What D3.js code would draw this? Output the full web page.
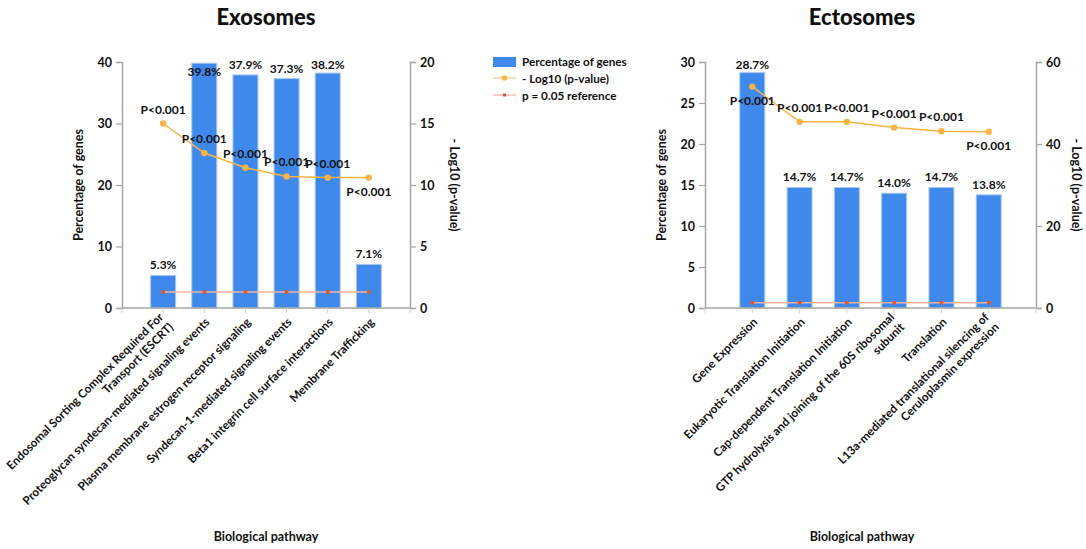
<!DOCTYPE html>
<html>
<head>
<meta charset="utf-8">
<script src="https://cdn.jsdelivr.net/npm/d3@7"></script>
<style>
  body { margin: 0; background: #fff; }
  svg text { font-family: Lato, "Open Sans", sans-serif; fill: #111; }
</style>
</head>
<body>
<svg id="chart" width="1086" height="549"></svg>
<script>
// data
var exoCats = [
  ["Endosomal Sorting Complex Required For", "Transport (ESCRT)"],
  ["Proteoglycan syndecan-mediated signaling events"],
  ["Plasma membrane estrogen receptor signaling"],
  ["Syndecan-1-mediated signaling events"],
  ["Beta1 integrin cell surface interactions"],
  ["Membrane Trafficking"]
];
var exoPct = [5.3, 39.8, 37.9, 37.3, 38.2, 7.1];
var exoLogP = [15.0, 12.6, 11.4, 10.7, 10.6, 10.6];

var ectoCats = [
  ["Gene Expression"],
  ["Eukaryotic Translation Initiation"],
  ["Cap-dependent Translation Initiation"],
  ["GTP hydrolysis and joining of the 60S ribosomal", "subunit"],
  ["Translation"],
  ["L13a-mediated translational silencing of", "Ceruloplasmin expression"]
];
var ectoPct = [28.7, 14.7, 14.7, 14.0, 14.7, 13.8];
var ectoLogP = [54.0, 45.4, 45.4, 44.0, 43.1, 43.0];

var refLogP = 1.3; // -log10(0.05)
var pText = "P<0.001";

var yTicksExo = [0, 10, 20, 30, 40];
var y2TicksExo = [0, 5, 10, 15, 20];
var yTicksEcto = [0, 5, 10, 15, 20, 25, 30];
var y2TicksEcto = [0, 20, 40, 60];

var legendItems = ["Percentage of genes", "- Log10 (p-value)", "p = 0.05 reference"];

var BLUE = "#3f89ec", ORANGE = "#f9b443", REFLINE = "#f5b3a0", REFDOT = "#e4572e", AXIS = "#a6a6a6", INK = "#111";

var svg = d3.select("#chart");

function drawChart(o) {
  var g = svg.append("g");
  var x = d3.scalePoint().domain(d3.range(o.cats.length)).range([o.left, o.right]).padding(1);
  var y = d3.scaleLinear().domain([0, o.yMax]).range([o.bottom, o.top]);
  var y2 = d3.scaleLinear().domain([0, o.y2Max]).range([o.bottom, o.top]);
  var bw = 25;

  // title
  g.append("text").attr("x", o.titleX).attr("y", 25).attr("text-anchor", "middle").attr("fill", INK)
    .style("font-size", "22px").style("font-weight", "900").text(o.title);

  // bars
  g.selectAll("rect.bar").data(o.pct).enter().append("rect")
    .attr("x", function (d, i) { return x(i) - bw / 2; })
    .attr("y", function (d) { return y(d); })
    .attr("width", bw)
    .attr("height", function (d) { return o.bottom - y(d); })
    .attr("fill", BLUE).attr("stroke", "#a9c9f5").attr("stroke-width", 1);

  // axes
  var left = d3.axisLeft(y).tickValues(o.yTicks).tickSize(6).tickPadding(4);
  var gl = g.append("g").attr("transform", "translate(" + o.left + ",0)").call(left);
  var right = d3.axisRight(y2).tickValues(o.y2Ticks).tickSize(6).tickPadding(4);
  var gr = g.append("g").attr("transform", "translate(" + o.right + ",0)").call(right);
  [gl, gr].forEach(function (a) {
    a.select(".domain").attr("stroke", AXIS).attr("stroke-width", 1.5);
    a.selectAll(".tick line").attr("stroke", AXIS).attr("stroke-width", 1.2);
    a.selectAll(".tick text").style("font-family", "Lato, sans-serif").style("font-size", "12.5px")
      .style("font-weight", "700").attr("fill", INK);
  });
  // bottom axis line with ticks at categories and ends
  g.append("line").attr("x1", o.left).attr("x2", o.right).attr("y1", o.bottom).attr("y2", o.bottom)
    .attr("stroke", AXIS).attr("stroke-width", 1.5);
  var bt = [o.left].concat(d3.range(o.cats.length).map(x)).concat([o.right]);
  g.selectAll("line.bt").data(bt).enter().append("line")
    .attr("x1", function (d) { return d; }).attr("x2", function (d) { return d; })
    .attr("y1", o.bottom).attr("y2", o.bottom + 5).attr("stroke", "#d0d0d0");

  // category labels
  o.cats.forEach(function (lines, i) {
    var t = g.append("text")
      .attr("transform", "translate(" + (x(i) + 3) + "," + (o.bottom + 12) + ") rotate(-45)")
      .attr("text-anchor", "end").attr("fill", INK)
      .style("font-size", "11.7px").style("font-weight", "700");
    var n = lines.length;
    lines.forEach(function (s, k) {
      t.append("tspan").attr("x", 0).attr("dy", k === 0 ? ((-(n - 1) * 0.6 + 0.35) + "em") : "1.2em").text(s);
    });
  });

  // percentage labels
  g.selectAll("text.pct").data(o.pct).enter().append("text")
    .attr("x", function (d, i) { return x(i); })
    .attr("y", function (d) { var yy = y(d) - 6; return yy < o.top + 7 ? (y(d) > o.top + 2 ? o.top + 7 : y(d) + 13) : yy; })
    .attr("text-anchor", "middle").attr("fill", INK).style("font-size", "12px").style("font-weight", "700")
    .text(function (d) { return d.toFixed(1) + "%"; });

  // reference line
  var refData = o.pct.map(function () { return refLogP; });
  var line = d3.line().x(function (d, i) { return x(i); });
  g.append("path").datum(refData).attr("fill", "none").attr("stroke", REFLINE).attr("stroke-width", 1.5)
    .attr("d", line.y(function (d) { return y2(d); }));
  g.selectAll("rect.refdot").data(refData).enter().append("rect")
    .attr("x", function (d, i) { return x(i) - 1.8; }).attr("y", function (d) { return y2(d) - 1.8; })
    .attr("width", 3.6).attr("height", 3.6).attr("fill", REFDOT);

  // -log10 line
  g.append("path").datum(o.logp).attr("fill", "none").attr("stroke", ORANGE).attr("stroke-width", 1.5)
    .attr("d", line.y(function (d) { return y2(d); }));
  g.selectAll("circle.lp").data(o.logp).enter().append("circle")
    .attr("cx", function (d, i) { return x(i); }).attr("cy", function (d) { return y2(d); })
    .attr("r", 3.2).attr("fill", ORANGE);
  g.selectAll("text.p").data(o.logp).enter().append("text")
    .attr("x", function (d, i) { return x(i); })
    .attr("y", function (d, i) { return o.pSide[i] < 0 ? y2(d) - 10 : y2(d) + 18; })
    .attr("text-anchor", "middle").attr("fill", INK).style("font-size", "12px").style("font-weight", "700")
    .text(pText);

  // axis titles
  var cy = (o.top + o.bottom) / 2;
  g.append("text").attr("transform", "translate(" + o.yLabX + "," + cy + ") rotate(-90)").attr("fill", INK)
    .attr("text-anchor", "middle").style("font-size", "12.5px").style("font-weight", "700").text("Percentage of genes");
  g.append("text").attr("transform", "translate(" + o.y2LabX + "," + cy + ") rotate(90)").attr("fill", INK)
    .attr("text-anchor", "middle").style("font-size", "12.5px").style("font-weight", "700").text("- Log10 (p-value)");
  g.append("text").attr("x", o.titleX).attr("y", 541).attr("text-anchor", "middle").attr("fill", INK)
    .style("font-size", "12.5px").style("font-weight", "700").text("Biological pathway");
}

drawChart({
  title: "Exosomes", titleX: 266, cats: exoCats, pct: exoPct, logp: exoLogP,
  left: 122, right: 410, top: 62, bottom: 308, yMax: 40, y2Max: 20,
  yTicks: yTicksExo, y2Ticks: y2TicksExo, pSide: [-1, -1, -1, -1, -1, 1],
  yLabX: 83, y2LabX: 450
});
drawChart({
  title: "Ectosomes", titleX: 862, cats: ectoCats, pct: ectoPct, logp: ectoLogP,
  left: 705, right: 1036, top: 62, bottom: 308, yMax: 30, y2Max: 60,
  yTicks: yTicksEcto, y2Ticks: y2TicksEcto, pSide: [1, -1, -1, -1, -1, 1],
  yLabX: 666, y2LabX: 1072
});

// legend
var lg = svg.append("g").attr("transform", "translate(493,0)");
lg.append("rect").attr("x", 0).attr("y", 57).attr("width", 23).attr("height", 10).attr("fill", BLUE);
lg.append("line").attr("x1", 0).attr("x2", 23).attr("y1", 78).attr("y2", 78).attr("stroke", ORANGE).attr("stroke-width", 1.2).attr("opacity", 0.7);
lg.append("circle").attr("cx", 11.5).attr("cy", 78).attr("r", 2.8).attr("fill", ORANGE);
lg.append("line").attr("x1", 0).attr("x2", 23).attr("y1", 95).attr("y2", 95).attr("stroke", REFLINE).attr("stroke-width", 1.2);
lg.append("rect").attr("x", 10).attr("y", 93.5).attr("width", 3).attr("height", 3).attr("fill", REFDOT);
lg.selectAll("text.leg").data(legendItems).enter().append("text")
  .attr("x", 29).attr("y", function (d, i) { return 62 + i * 17 + 4; }).attr("fill", INK)
  .style("font-size", "11.7px").style("font-weight", "700").text(function (d) { return d; });
</script>
</body>
</html>
